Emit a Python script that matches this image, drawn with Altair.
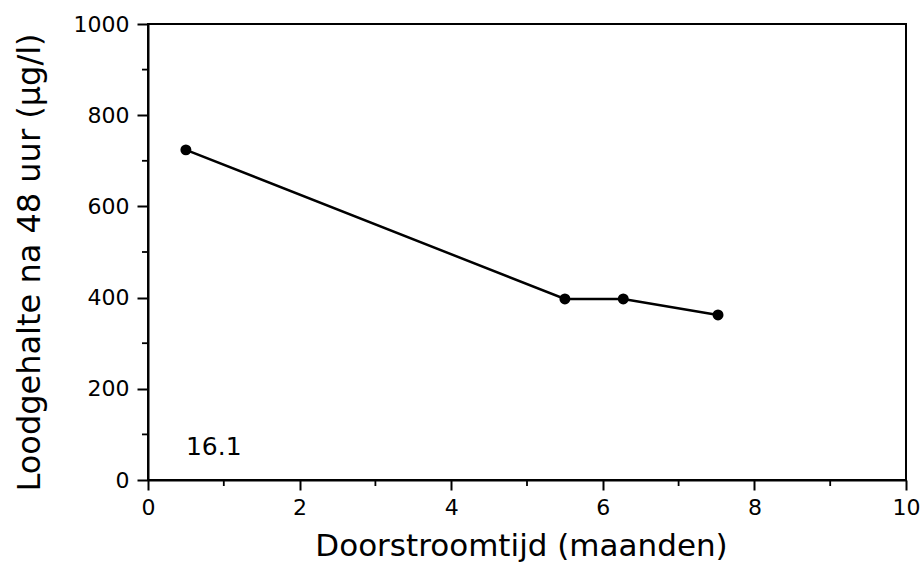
import altair as alt
import pandas as pd

# data
months = [0.5, 5.5, 6.27, 7.52]
lead = [724, 397, 397, 362]
x_major = [0, 2, 4, 6, 8, 10]
x_minor = [1, 3, 5, 7, 9]
y_major = [0, 200, 400, 600, 800, 1000]
y_minor = [100, 300, 500, 700, 900]
label_text = ["16.1"]
label_x = [0.5]
label_y = [72]

W, H = 758, 456
FONT = "DejaVu Sans"

df = pd.DataFrame({"x": months, "y": lead})
df_xm = pd.DataFrame({"x": x_minor})
df_ym = pd.DataFrame({"y": y_minor})
df_lab = pd.DataFrame({"t": label_text, "x": label_x, "y": label_y})

xs = alt.Scale(domain=[0, 10], nice=False, zero=False)
ys = alt.Scale(domain=[0, 1000], nice=False, zero=False)

xax = alt.Axis(values=x_major, format="d", title="Doorstroomtijd (maanden)",
               grid=False, tickSize=10, tickWidth=2, tickColor="black",
               domainColor="black", domainWidth=2, labelFont=FONT,
               labelFontSize=22, labelColor="black", labelPadding=7,
               labelFlush=False,
               titleFont=FONT, titleFontSize=31, titleFontWeight="normal",
               titleColor="black", titleX=373, titleY=66, titleBaseline="middle")
yax = alt.Axis(values=y_major, format="d", title="Loodgehalte na 48 uur (μg/l)",
               grid=False, tickSize=11, tickWidth=2, tickColor="black",
               domainColor="black", domainWidth=2, labelFont=FONT,
               labelFontSize=22, labelColor="black", labelPadding=8,
               labelFlush=False,
               titleFont=FONT, titleFontSize=32, titleFontWeight="normal",
               titleColor="black", titleAngle=-90, titleX=-119, titleY=238,
               titleBaseline="middle", titleAlign="center")

X = lambda: alt.X("x:Q", scale=xs, axis=xax)
Y = lambda: alt.Y("y:Q", scale=ys, axis=yax)

base = alt.Chart(df)
line = base.mark_line(color="black", strokeWidth=2.5).encode(x=X(), y=Y())
pts = base.mark_point(filled=True, color="black", size=120, opacity=1).encode(
    x=X(), y=Y())

xminor = alt.Chart(df_xm).mark_rule(color="black", strokeWidth=1.8).encode(
    x=X(), y=alt.value(H), y2=alt.value(H + 6))
yminor = alt.Chart(df_ym).mark_rule(color="black", strokeWidth=1.8).encode(
    y=Y(), x=alt.value(-6), x2=alt.value(0))

lab = alt.Chart(df_lab).mark_text(font=FONT, fontSize=25, align="left",
                                  baseline="middle", color="black").encode(
    x=X(), y=Y(), text="t:N")

chart = alt.layer(line, pts, xminor, yminor, lab).properties(
    width=W, height=H,
    autosize=alt.AutoSizeParams(type="none"),
    padding={"left": 148, "top": 24, "right": 14, "bottom": 86},
    background="white",
).configure_view(stroke="black", strokeWidth=2)

chart.save("out.html", embed_options={"renderer": "svg", "actions": False})
